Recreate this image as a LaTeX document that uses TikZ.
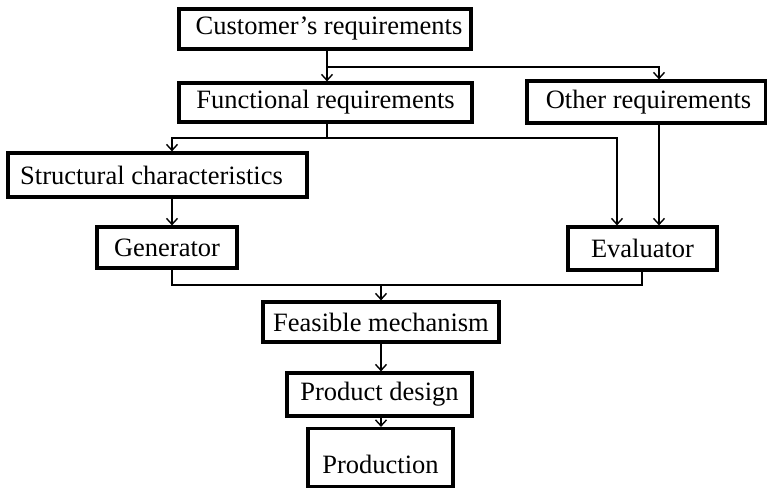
\documentclass[tikz,border=0pt]{standalone}
\usepackage{fontspec}
\setmainfont{Liberation Serif}
\usetikzlibrary{arrows.meta}
\begin{document}
\begin{tikzpicture}[x=1pt,y=-1pt,
 box/.style={draw, line width=3.2pt, inner sep=0pt, font=\fontsize{26.5}{30}\selectfont},
 conn/.style={line width=2pt},
 arr/.style={conn, -{Straight Barb[length=6pt,width=11pt,line width=1.4pt]}}]
\useasboundingbox (0,0) rectangle (767,489);
\node[box, minimum width=292pt, minimum height=40pt] (cust) at (325,29) {\hspace*{8pt}Customer’s requirements};
\node[box, minimum width=293pt, minimum height=39pt] (func) at (325.5,102.5) {Functional requirements};
\node[box, minimum width=239pt, minimum height=42pt] (other) at (646.5,102) {\hspace*{4pt}Other requirements};
\node[box, minimum width=299pt, minimum height=44pt] (struct) at (157.5,175) {Structural characteristics\hspace*{12pt}};
\node[box, minimum width=140pt, minimum height=41pt] (gen) at (167,247.5) {Generator};
\node[box, minimum width=149pt, minimum height=43pt] (eval) at (642.5,248.5) {Evaluator};
\node[box, minimum width=236pt, minimum height=40pt] (feas) at (381,322) {Feasible mechanism};
\node[box, minimum width=185pt, minimum height=43pt] (prod) at (379.5,394.5) {Product design};
\node[box, minimum width=145pt, minimum height=58pt, text height=32pt, text depth=0pt] (production) at (380.5,457.5) {Production};
% junctions
\coordinate (j1) at (327,67);
\coordinate (xo) at (659,0);
\coordinate (j2) at (327,138);
\coordinate (xs) at (172,0);
\coordinate (xe) at (617,0);
\coordinate (j3) at (381,285);
\coordinate (xg) at (642,0);
\coordinate (xm) at (381,0);
\draw[conn] (cust.south -| j1) -- (j1);
\draw[arr] (j1) -- (func.north -| j1);
\draw[arr] (j1) -| (xo |- other.north);
\draw[conn] (func.south -| j2) -- (j2);
\draw[arr] (j2) -| (xs |- struct.north);
\draw[arr] (j2) -| (xe |- eval.north);
\draw[arr] (xo |- other.south) -- (xo |- eval.north);
\draw[arr] (xs |- struct.south) -- (xs |- gen.north);
\draw[conn] (xs |- gen.south) |- (j3) -| (xg |- eval.south);
\draw[arr] (j3) -- (feas.north -| j3);
\draw[arr] (feas.south -| xm) -- (prod.north -| xm);
\draw[arr] (prod.south -| xm) -- (production.north -| xm);
\end{tikzpicture}
\end{document}
